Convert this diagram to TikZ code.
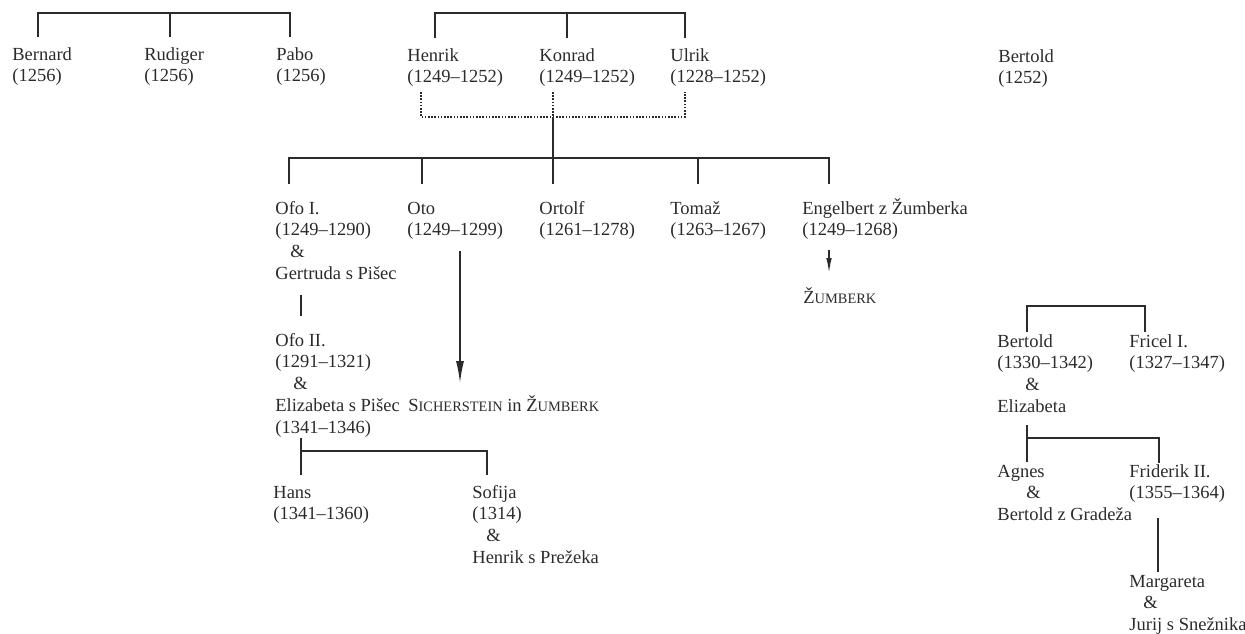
\documentclass[tikz,border=0pt]{standalone}
\usepackage{fontspec}
\setmainfont{Liberation Serif}
\usetikzlibrary{arrows.meta}
\definecolor{ink}{HTML}{2B2B2B}
\newcommand\smc[1]{{\fontsize{7.2}{11}\selectfont #1}}
\begin{document}
\begin{tikzpicture}[x=0.5pt,y=-0.5pt,
  % anchor = baseline of the LAST line of a node
  person/.style={anchor=base west, inner sep=0pt, align=left, font=\fontsize{9.25}{10.9}\selectfont, text=ink},
  link/.style={draw=ink, line width=0.75pt},
  dotlink/.style={draw=ink, line width=0.6pt, dash pattern=on 0.8pt off 0.8pt},
  bigarrow/.style={link, -{Latex[length=11pt, width=4pt]}},
  smallarrow/.style={link, -{Latex[length=7.5pt, width=2.8pt]}}]
\useasboundingbox (0,0) rectangle (1245,633);

% ---- persons ----
\node[person] (bernard) at (12,81.8) {Bernard\\(1256)};
\node[person] (rudiger) at (144,81.8) {Rudiger\\(1256)};
\node[person] (pabo) at (276,81.8) {Pabo\\(1256)};
\node[person] (henrik) at (407,82.8) {Henrik\\(1249–1252)};
\node[person] (konrad) at (539,82.8) {Konrad\\(1249–1252)};
\node[person] (ulrik) at (670,82.8) {Ulrik\\(1228–1252)};
\node[person] (bertoldA) at (998,83.8) {Bertold\\(1252)};

\node[person] (ofo1) at (275,279.4) {Ofo I.\\(1249–1290)\\\hspace*{7.5pt}\&\\Gertruda s Pišec};
\node[person] (oto) at (407,235.8) {Oto\\(1249–1299)};
\node[person] (ortolf) at (539,235.8) {Ortolf\\(1261–1278)};
\node[person] (tomaz) at (670,235.8) {Tomaž\\(1263–1267)};
\node[person] (engelbert) at (802,235.8) {Engelbert z Žumberka\\(1249–1268)};
\node[person] (zumberk) at (803,303) {Ž\smc{UMBERK}};

\node[person] (ofo2) at (275,433.2) {Ofo II.\\(1291–1321)\\\hspace*{9pt}\&\\Elizabeta s Pišec\\(1341–1346)};
\node[person] (sich) at (408,411) {S\smc{ICHERSTEIN} in Ž\smc{UMBERK}};

\node[person] (hans) at (273,519.8) {Hans\\(1341–1360)};
\node[person] (sofija) at (472,563.4) {Sofija\\(1314)\\\hspace*{7pt}\&\\Henrik s Prežeka};

\node[person] (bertoldB) at (997,412.4) {Bertold\\(1330–1342)\\\hspace*{14pt}\&\\Elizabeta};
\node[person] (fricel) at (1129,368.8) {Fricel I.\\(1327–1347)};
\node[person] (agnes) at (997,520.6) {Agnes\\\hspace*{14.5pt}\&\\Bertold z Gradeža};
\node[person] (friderik) at (1129,498.8) {Friderik II.\\(1355–1364)};
\node[person] (margareta) at (1129,630.6) {Margareta\\\hspace*{7pt}\&\\Jurij s Snežnika};

% ---- junction coordinates ----
\coordinate (a1) at (38,13);  \coordinate (a2) at (170,13); \coordinate (a3) at (290,13);
\coordinate (b1) at (435,13); \coordinate (b2) at (567,13); \coordinate (b3) at (685,13);
\coordinate (d1) at (421,117); \coordinate (d2) at (553,117); \coordinate (d3) at (685,117);
\coordinate (c0) at (289,158); \coordinate (c1) at (422,158); \coordinate (c2) at (553,158);
\coordinate (c3) at (698,158); \coordinate (c4) at (829,158);
\coordinate (h0) at (301,451); \coordinate (h1) at (487,451);
\coordinate (r1) at (1027,306); \coordinate (r2) at (1145,306);
\coordinate (e1) at (1027,438); \coordinate (e2) at (1159,438);

% ---- first generation brackets ----
\draw[link] (a1 |- 0,37) -- (a1) -- (a3) -- (a3 |- 0,37);
\draw[link] (a2) -- (a2 |- 0,37);
\draw[link] (b1 |- 0,38) -- (b1) -- (b3) -- (b3 |- 0,38);
\draw[link] (b2) -- (b2 |- 0,38);

% ---- dotted joint parentage ----
\draw[dotlink] (d1 |- 0,92) -- (d1) -- (d3) -- (d3 |- 0,92);
\draw[dotlink] (d2 |- 0,92) -- (d2);
\draw[link] (d2) -- (c2) -- (c2 |- 0,184);

% ---- children bracket ----
\draw[link] (c0 |- 0,184) -- (c0) -- (c4) -- (c4 |- 0,184);
\draw[link] (c1) -- (c1 |- 0,184);
\draw[link] (c3) -- (c3 |- 0,184);

% ---- descent lines ----
\draw[link] (301,295) -- (301,316);
\draw[bigarrow] (460,251) -- (460,383);
\draw[smallarrow] (829,250) -- (829,273);

\draw[link] (h0 |- 0,438) -- (h0 |- 0,475);
\draw[link] (h0) -- (h1) -- (h1 |- 0,475);

% ---- right family ----
\draw[link] (r1 |- 0,332) -- (r1) -- (r2) -- (r2 |- 0,332);
\draw[link] (e1 |- 0,425) -- (e1 |- 0,462);
\draw[link] (e1) -- (e2) -- (e2 |- 0,463);
\draw[link] (1158,518) -- (1158,572);
\end{tikzpicture}
\end{document}
